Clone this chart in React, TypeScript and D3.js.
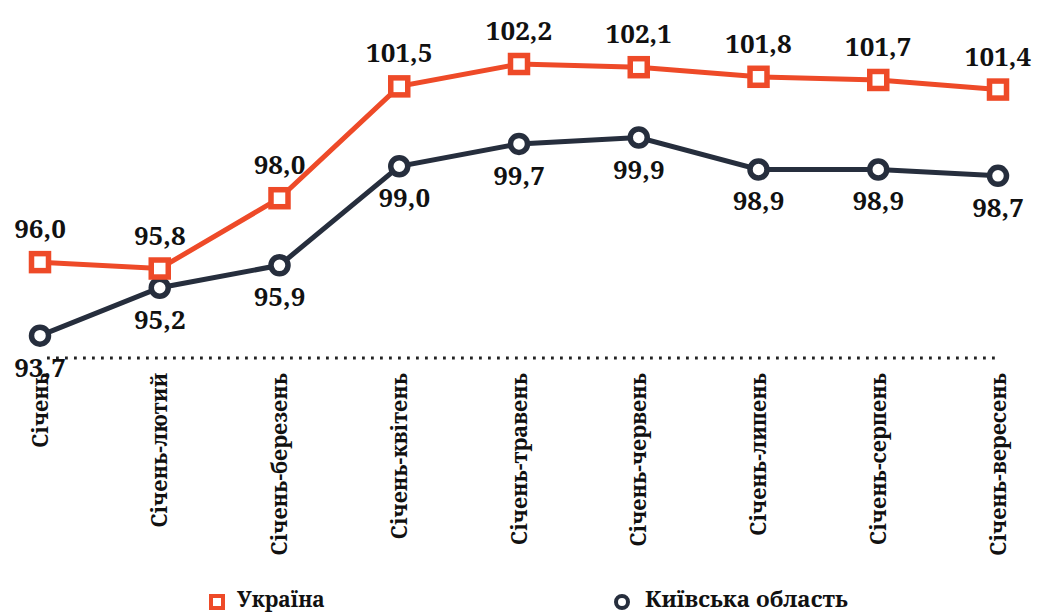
import React from 'react';
import * as d3 from 'd3';

const width = 1038;
const height = 613;

const categories = [
  'Січень',
  'Січень-лютий',
  'Січень-березень',
  'Січень-квітень',
  'Січень-травень',
  'Січень-червень',
  'Січень-липень',
  'Січень-серпень',
  'Січень-вересень'
];
const ukraine = [96.0, 95.8, 98.0, 101.5, 102.2, 102.1, 101.8, 101.7, 101.4];
const kyivRegion = [93.7, 95.2, 95.9, 99.0, 99.7, 99.9, 98.9, 98.9, 98.7];
const seriesNames = ['Україна', 'Київська область'];

const orange = '#ee4a28';
const navy = '#262e3d';
// Liberation Serif here has no Cyrillic glyphs, Noto Serif does
const textStyle = { fontFamily: "'Noto Serif', 'DejaVu Serif', serif", fontWeight: 'bold' as const };

const fmt = (v: number) => v.toFixed(1).replace('.', ',');

const App = () => {
  const x = d3.scalePoint<string>().domain(categories).range([40, 998]);
  const y = d3.scaleLinear().domain([93, 102.2]).range([358, 64]);

  const line = d3.line<number>()
    .x((_, i) => x(categories[i]) as number)
    .y(d => y(d));

  return (
    <svg
      width={width}
      height={height}
      style={{ position: 'absolute', left: 0, top: 0, background: '#fff' }}
    >
      {/* baseline */}
      <line
        x1={47}
        x2={996}
        y1={y(93)}
        y2={y(93)}
        stroke="#222"
        strokeWidth={2.8}
        strokeDasharray="2.8 6.2"
      />

      {/* x labels */}
      {categories.map(c => (
        <text
          key={c}
          transform={`translate(${x(c)},373) rotate(-90)`}
          textAnchor="end"
          dy="0.35em"
          fontSize={21.5}
          fill="#111"
          style={textStyle}
        >
          {c}
        </text>
      ))}

      {/* lines */}
      <path d={line(kyivRegion) || ''} fill="none" stroke={navy} strokeWidth={5} />
      <path d={line(ukraine) || ''} fill="none" stroke={orange} strokeWidth={5} />

      {/* markers */}
      {kyivRegion.map((v, i) => (
        <circle
          key={i}
          cx={x(categories[i])}
          cy={y(v)}
          r={8.5}
          fill="#fff"
          stroke={navy}
          strokeWidth={5.5}
        />
      ))}
      {ukraine.map((v, i) => (
        <rect
          key={i}
          x={(x(categories[i]) as number) - 8.5}
          y={y(v) - 8.5}
          width={17}
          height={17}
          fill="#fff"
          stroke={orange}
          strokeWidth={5.5}
        />
      ))}

      {/* value labels */}
      {ukraine.map((v, i) => (
        <text
          key={i}
          x={x(categories[i])}
          y={y(v) - 24}
          textAnchor="middle"
          fontSize={26}
          fill="#111"
          style={textStyle}
        >
          {fmt(v)}
        </text>
      ))}
      {kyivRegion.map((v, i) => (
        <text
          key={i}
          x={(x(categories[i]) as number) + (i === 3 ? 5 : 0)}
          y={y(v) + 41}
          textAnchor="middle"
          fontSize={26}
          fill="#111"
          style={textStyle}
        >
          {fmt(v)}
        </text>
      ))}

      {/* legend */}
      <rect x={211} y={596} width={12} height={12} fill="#fff" stroke={orange} strokeWidth={4} />
      <text x={237} y={607} fontSize={21} fill="#111" style={textStyle}>{seriesNames[0]}</text>
      <circle cx={622} cy={602} r={6} fill="#fff" stroke={navy} strokeWidth={4} />
      <text x={645} y={607} fontSize={22.5} fill="#111" style={textStyle}>{seriesNames[1]}</text>
    </svg>
  );
};

export default App;
